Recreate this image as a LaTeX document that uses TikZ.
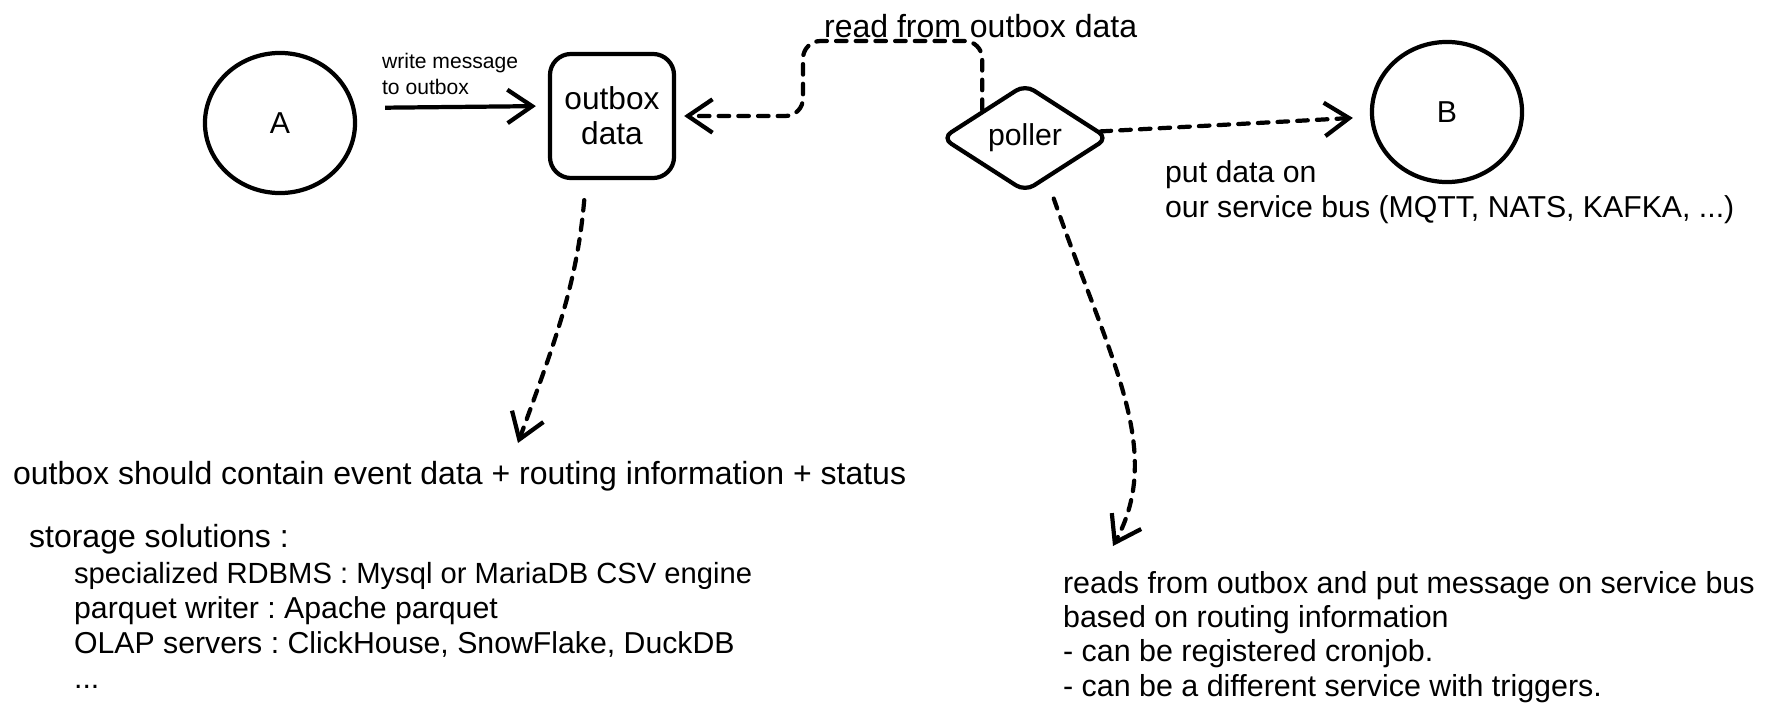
\documentclass[tikz,border=0pt]{standalone}
\usepackage{fontspec}
\setmainfont{Liberation Sans}
\usetikzlibrary{positioning}
\usetikzlibrary{shapes.geometric}
\usetikzlibrary{arrows.meta}
\frenchspacing
\newcommand{\bodyfont}{\fontsize{8.6}{10}\selectfont}
\newcommand{\bigfont}{\fontsize{9.1}{10}\selectfont}
\newcommand{\smallfont}{\fontsize{6}{7.6}\selectfont}
\tikzstyle{circ} = [draw, ellipse, minimum width=1.5cm, minimum height=1.4cm]
\tikzstyle{store} = [draw, rectangle, rounded corners=6pt, minimum width=1.24cm, minimum height=1.24cm, align=center]
\tikzstyle{poll} = [draw, diamond, rounded corners=3pt, minimum width=1.67cm, minimum height=1.08cm, inner sep=0pt]
\tikzstyle{txt} = [align=left, inner sep=0pt, anchor=west]
\tikzstyle{dline} = [dash pattern=on 3pt off 2.6pt, line cap=round]
\tikzstyle{coord} = [coordinate]

\begin{document}
\begin{tikzpicture}[x=0.01cm,y=-0.01cm,line width=1.2pt,>={Straight Barb[length=7pt,width=9.5pt]},font=\bodyfont]%[node distance=2cm]
    \useasboundingbox (0,0) rectangle (1766,718);
    \node [circ] (A) at (280,123) {A};
    \node [store, font=\fontsize{9}{10}\selectfont] (outbox) at (612,116) {outbox\\data};
    \node [poll] (poller) at (1025,138) {poller};
    \node [circ] (B) at (1447,112) {B};

    \node [txt, font=\smallfont] (write) at (380,74) {write message\\to outbox};
    \node [txt, font=\bigfont] (read) at (822,26) {read from outbox data};
    \node [txt] (put) at (1163,192) {put data on\\our service bus (MQTT, NATS, KAFKA, ...)};
    \node [txt] (outboxnote) at (11,575) {{\bigfont outbox should contain event data + routing information + status}\\[8pt]
        \hspace*{0.16cm}{\bigfont storage solutions :}\\
        \hspace*{0.61cm}{\fontsize{8.3}{10}\selectfont specialized RDBMS : Mysql or MariaDB CSV engine}\\
        \hspace*{0.61cm}parquet writer : Apache parquet\\
        \hspace*{0.61cm}OLAP servers : ClickHouse, SnowFlake, DuckDB\\
        \hspace*{0.61cm}...};
    \node [txt, font=\fontsize{8.65}{9.7}\selectfont] (pollernote) at (1061,637) {reads from outbox and put message on service bus\\
        based on routing information\\
        - can be registered cronjob.\\
        - can be a different service with triggers.};

    \node [coord] (rd) at (803,41) {};
    \node [coord] (notein) at (518,443) {};
    \node [coord] (pollin) at (1113,546) {};

    \draw [->, shorten <=0.28cm, shorten >=0.12cm] ([yshift=0.15cm]A.east) -- ([yshift=0.1cm]outbox.west);
    \draw [->, dline, rounded corners=5pt, shorten >=0.08cm] (poller.north west) |- (rd) |- (outbox.east);
    \draw [->, dline, shorten >=0.17cm] (poller.5) -- ([yshift=-0.05cm]B.west);
    \draw [->, dline, shorten <=0.2cm] ([xshift=-0.26cm]outbox.south) to[out=-95,in=70] (notein);
    \draw [->, dline, shorten <=0.2cm] (poller.-62) .. controls (1110,360) and (1165,450) .. (pollin);
\end{tikzpicture}
\end{document}
